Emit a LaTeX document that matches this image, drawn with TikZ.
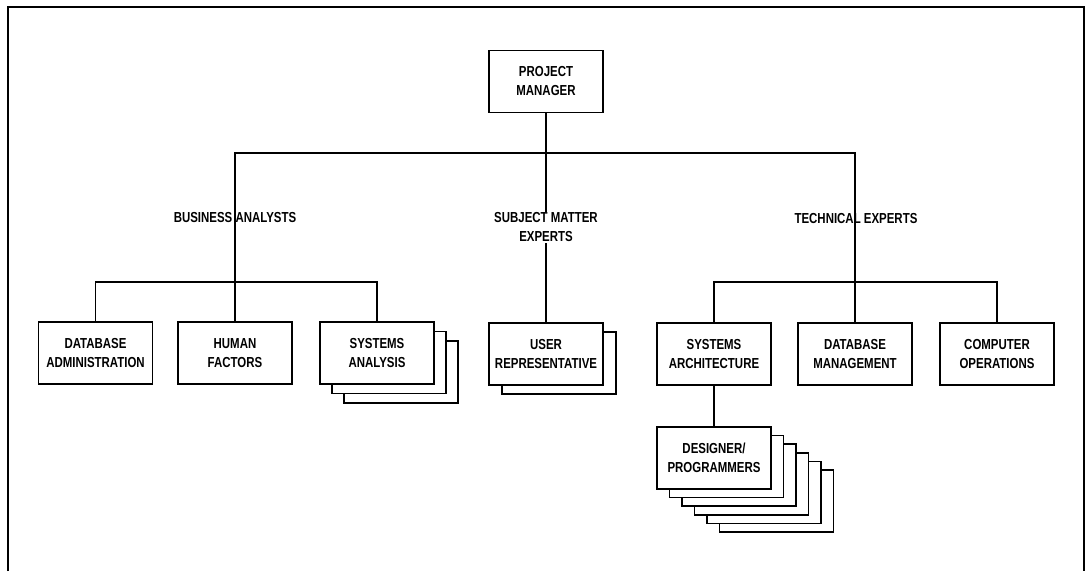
\documentclass[tikz,border=0pt]{standalone}
\usepackage{fontspec}
\setmainfont{Liberation Sans}[FakeStretch=0.79]
\usepackage{tikz}
\usetikzlibrary{calc,positioning}

\tikzset{
  unit/.style={draw,line width=1.5pt,fill=white,minimum width=114pt,minimum height=62pt,
    inner sep=0pt,align=center,font=\fontsize{14.5pt}{19pt}\selectfont\bfseries},
  grp/.style={align=center,inner sep=1pt,font=\fontsize{14.5pt}{19pt}\selectfont\bfseries},
  link/.style={line width=1.5pt},
}

\begin{document}
\begin{tikzpicture}[x=1pt,y=-1pt]
\useasboundingbox (0,0) rectangle (1088,571);
% frame, open at the bottom
\draw[link] (8,571)--(8,7)--(1084,7)--(1084,571);
\coordinate (bus) at (0,153); \coordinate (sub) at (0,282);
% top
\node[unit] (pm) at (546,81.5) {PROJECT\\MANAGER};
% business analysts
\node[unit] (dba) at (95.5,353) {DATABASE\\ADMINISTRATION};
\node[unit] (hf) at (235,353) {HUMAN\\FACTORS};
\foreach \k in {2,1} \node[unit] (sa\k) at ($(377,353)+(\k*12,\k*9.5)$) {};
\node[unit] (sa) at (377,353) {SYSTEMS\\ANALYSIS};
% subject matter experts
\node[unit] (ur1) at ($(546,354)+(13,9)$) {};
\node[unit] (ur) at (546,354) {USER\\REPRESENTATIVE};
% technical experts
\node[unit] (sysa) at (714,354) {SYSTEMS\\ARCHITECTURE};
\node[unit] (dbm) at (855,354) {DATABASE\\MANAGEMENT};
\node[unit] (co) at (997,354) {COMPUTER\\OPERATIONS};
\foreach \k in {5,4,...,1} \node[unit] (dp\k) at ($(714,458)+(\k*12.5,\k*8.6)$) {};
\node[unit] (dp) at (714,458) {DESIGNER/\\PROGRAMMERS};
% connectors
\draw[link] (hf.north)--(hf.north |- bus)--(dbm.north |- bus)--(dbm.north);
\draw[link] (pm.south)--(ur.north);
\draw[link] (dba.north)--(dba.north |- sub)--(sa.north |- sub)--(sa.north);
\draw[link] (sysa.north)--(sysa.north |- sub)--(co.north |- sub)--(co.north);
\draw[link] (sysa.south)--(dp.north);
% group labels
\node[grp] (ba) at (235,218) {BUSINESS ANALYSTS};
\node[grp,fill=white] (sme) at (546,227.5) {SUBJECT MATTER\\EXPERTS};
\node[grp] (te) at (856,219) {TECHNICAL EXPERTS};
\end{tikzpicture}
\end{document}
